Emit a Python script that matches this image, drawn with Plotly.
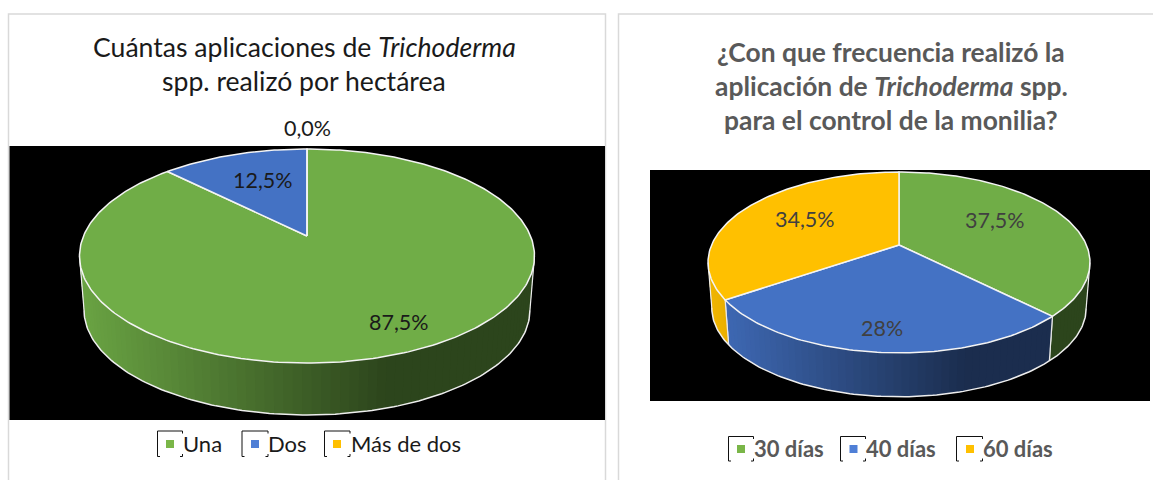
import math
import plotly.graph_objects as go

# ---- data ----
left_categories = ["Una", "Dos", "Más de dos"]
left_values = [87.5, 12.5, 0.0]
left_labels = ["87,5%", "12,5%", "0,0%"]
right_categories = ["30 días", "40 días", "60 días"]
right_values = [37.5, 28.0, 34.5]
right_labels = ["37,5%", "28%", "34,5%"]
slice_colors = ["#70ad47", "#4472c4", "#ffc000"]
legend_swatch_colors = ["#7ab648", "#4f7fd6", "#ffc000"]

# ---- layout constants (page pixels) ----
W, H = 1153, 480
FONT = "Lato, Carlito, Calibri, sans-serif"
left_geo = dict(cx=307, y0=236, A=223.5, B=103.3, p=0.187, bs=0.98, y0b=290.5)
right_geo = dict(cx=899, y0=245, A=187.4, B=87.1, p=0.193, bs=0.98, y0b=291)

fig = go.Figure()


def project(geo, theta, bottom=False):
    """theta: degrees clockwise from 12 o'clock on the pie's unit circle."""
    t = math.radians(theta)
    x, y = math.sin(t), math.cos(t)
    d = 1 + geo["p"] * y
    s = geo["bs"] if bottom else 1.0
    y0 = geo["y0b"] if bottom else geo["y0"]
    return geo["cx"] + s * geo["A"] * x / d, y0 - s * geo["B"] * y / d


def arc(geo, a, b, bottom=False, step=1.0):
    n = max(1, int(abs(b - a) / step))
    return [project(geo, a + (b - a) * i / n, bottom) for i in range(n + 1)]


def poly(points, fill=None, line=None, width=1.0, close=True):
    xs = [q[0] for q in points]
    ys = [q[1] for q in points]
    if close:
        xs.append(xs[0])
        ys.append(ys[0])
    fig.add_trace(go.Scatter(
        x=xs, y=ys, mode="lines", showlegend=False, hoverinfo="skip",
        fill="toself" if fill else "none", fillcolor=fill,
        line=dict(color=line or fill, width=width)))


def shade(color, geo, x):
    n = (x - geo["cx"]) / (geo["A"] * 1.02)
    f = 0.4 if n > 0.35 else 0.4 + (0.35 - n) / 1.35 * 0.55
    rgb = [int(color[i:i + 2], 16) for i in (1, 3, 5)]
    return "#%02x%02x%02x" % tuple(int(c * f) for c in rgb)


def draw_pie(geo, values):
    total = sum(values)
    spans = []
    start = 0.0
    for v in values:
        end = start + 360.0 * v / total
        spans.append((start, end))
        start = end
    tang = math.degrees(math.asin(geo["p"]))
    vis_a, vis_b = 90 + tang, 270 - tang

    # side wall: overlapping strips, painted right to left, so the shading has no seams
    for (a, b), color in zip(spans, slice_colors):
        lo, hi = max(a, vis_a), min(b, vis_b)
        if hi <= lo:
            continue
        n = max(1, int((hi - lo) / 2))
        for i in range(n):
            t0 = lo + (hi - lo) * i / n
            t1 = lo + (hi - lo) * (i + 1) / n
            t_end = hi if i == n - 1 else min(hi, t1 + 1.5)
            pts = arc(geo, t0, t_end) + arc(geo, t_end, t0, bottom=True)
            c = shade(color, geo, project(geo, (t0 + t1) / 2)[0])
            poly(pts, fill=c, line="rgba(0,0,0,0)", width=0)
        # seam lines
        for t in (a, b):
            if vis_a < t < vis_b:
                poly([project(geo, t), project(geo, t, True)], line="#e8e8e8", width=1.2, close=False)
    # outer edge of the wall
    poly(arc(geo, vis_a, vis_b, bottom=True), line="#eeeeee", width=1.5, close=False)
    for t in (vis_a, vis_b):
        poly([project(geo, t), project(geo, t, True)], line="#eeeeee", width=1.2, close=False)

    # top face
    apex = (geo["cx"], geo["y0"])
    for (a, b), color in zip(spans, slice_colors):
        poly([apex] + arc(geo, a, b), fill=color, line="#f4f4f4", width=1.5)


def text(x, y, s, size, color="#1a1a1a", anchor="center"):
    fig.add_annotation(x=x, y=y, xref="x", yref="y", text=s, showarrow=False,
                       xanchor=anchor, yanchor="middle",
                       font=dict(family=FONT, size=size, color=color))


def bracket(x0, x1, y0, y1):
    t = 2.5
    segs = [(x0, y0, x1, y0), (x0, y0, x0, y1), (x0, y1, x0 + t, y1),
            (x1, y0, x1, y0 + t), (x1, y1, x1 - t, y1), (x1, y1, x1, y1 - t)]
    for a, b, c, d in segs:
        fig.add_shape(type="line", x0=a, y0=b, x1=c, y1=d, xref="x", yref="y",
                      line=dict(color="#111111", width=1), layer="above")


# panels
for x0, x1 in ((8.5, 605.5), (618.5, 1170)):
    fig.add_shape(type="rect", x0=x0, x1=x1, y0=14, y1=500, xref="x", yref="y",
                  line=dict(color="#d9d9d9", width=1.5), fillcolor="white", layer="below")
# black plot areas
fig.add_shape(type="rect", x0=9.5, x1=605, y0=146, y1=420, xref="x", yref="y",
              line_width=0, fillcolor="black", layer="below")
fig.add_shape(type="rect", x0=650, x1=1150, y0=170, y1=401, xref="x", yref="y",
              line_width=0, fillcolor="black", layer="below")

draw_pie(left_geo, left_values)
draw_pie(right_geo, right_values)

# titles
text(304, 47, "Cuántas aplicaciones de <i>Trichoderma</i>", 26.6)
text(304, 81, "spp. realizó por hectárea", 26.6)
GR = "#595959"
text(891, 52, "<b>¿Con que frecuencia realizó la</b>", 26.4, GR)
text(891, 86, "<b>aplicación de <i>Trichoderma</i> spp.</b>", 26.4, GR)
text(891, 120, "<b>para el control de la monilia?</b>", 26.4, GR)

# data labels
for (x, y), s in zip([(399, 322), (263, 180), (307, 128)], left_labels):
    text(x, y, s, 21.5)
for (x, y), s in zip([(995, 220), (882, 328), (805, 219)], right_labels):
    text(x, y, s, 21.5, "#404040")

# legends
left_leg = [(157.5, 182.5, 170, 180.5), (242, 268, 255, 265.5), (324.5, 350, 337, 348.5)]
for (x0, x1, xs, xt), name, col in zip(left_leg, left_categories, legend_swatch_colors):
    bracket(x0, x1, 431, 456.5)
    fig.add_trace(go.Scatter(x=[xs], y=[444], mode="markers", showlegend=False, hoverinfo="skip",
                             marker=dict(symbol="square", size=8, color=col)))
    text(xt, 443, name, 22, "#1a1a1a", "left")
right_leg = [(728.5, 753.5, 741, 751.5), (840.5, 865.5, 853.5, 863.5), (956.5, 982.5, 970, 980.5)]
for (x0, x1, xs, xt), name, col in zip(right_leg, right_categories, legend_swatch_colors):
    bracket(x0, x1, 436.5, 461)
    fig.add_trace(go.Scatter(x=[xs], y=[449], mode="markers", showlegend=False, hoverinfo="skip",
                             marker=dict(symbol="square", size=8, color=col)))
    text(xt, 448, "<b>" + name + "</b>", 22, GR, "left")

fig.update_layout(
    width=W, height=H, margin=dict(l=0, r=0, t=0, b=0),
    paper_bgcolor="white", plot_bgcolor="white", showlegend=False,
    xaxis=dict(range=[0, W], visible=False, fixedrange=True),
    yaxis=dict(range=[H, 0], visible=False, fixedrange=True),
)
fig.write_html("out.html", config=dict(displayModeBar=False),
               post_script="document.body.style.margin='0';")
